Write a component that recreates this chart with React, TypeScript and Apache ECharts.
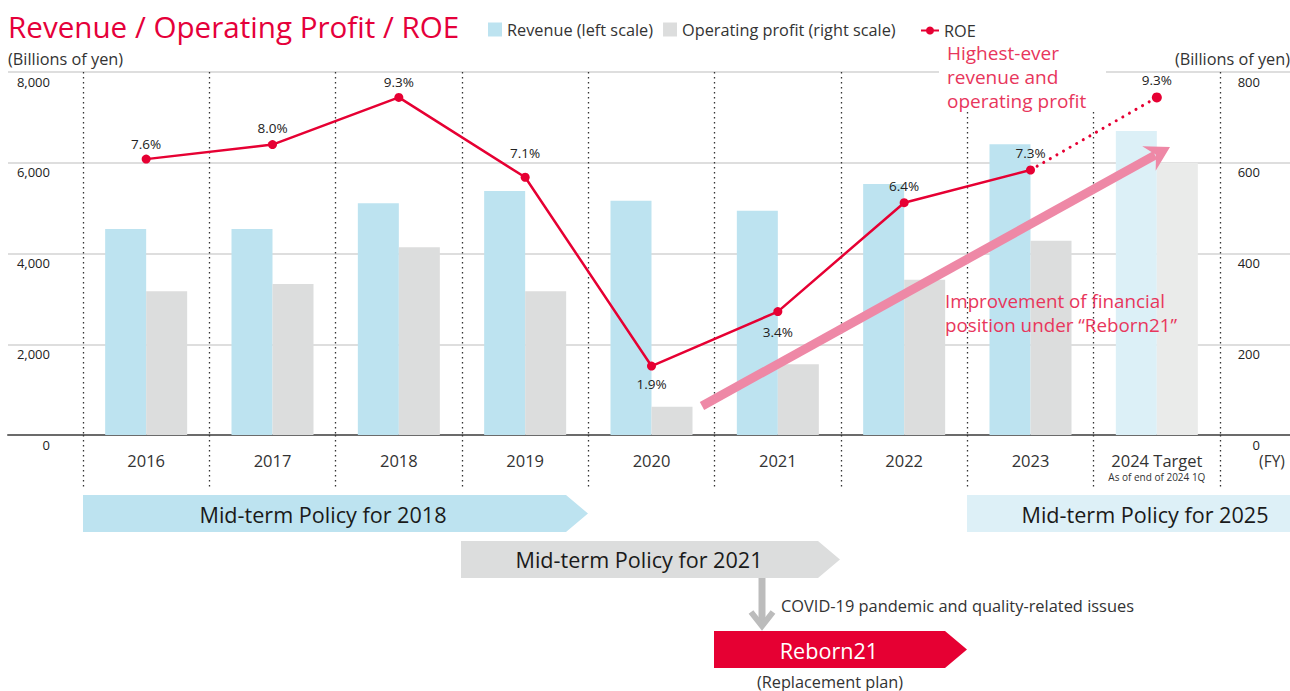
import React, { useEffect, useRef } from 'react';
import * as echarts from 'echarts';

// ---- Data ----
const categories = ['2016', '2017', '2018', '2019', '2020', '2021', '2022', '2023', '2024 Target'];
const revenue = [4540, 4540, 5110, 5380, 5160, 4940, 5530, 6410, 6700];
const operatingProfit = [317, 333, 414, 317, 62, 156, 342, 428, 600];
const roe = [7.6, 8.0, 9.3, 7.1, 1.9, 3.4, 6.4, 7.3, 9.3];
const targetSubLabel = 'As of end of 2024 1Q';

// label placement for ROE points (style, not data)
const roeLabelPlacement = ['top', 'top', 'top', 'top', 'bottom', 'bottom', 'top', 'top', 'top'];
const roeLabelDistance = [4, 5, 4, 13, 6, 9, 5, 6, 5];

const FONT = '"Open Sans", "Noto Sans", sans-serif';
const RED = '#e60033';
const ANNOT = '#e8365c';
const DOT = [1.4, 3.6];

const T = [1170, 147];
const d = [0.877, -0.48];
const n = [0.48, 0.877];
const pt = (a: number, b: number) => [T[0] - a * d[0] + b * n[0], T[1] - a * d[1] + b * n[1]];

function text(x: number, y: number, t: string, size: number, fill: string, align = 'left', extra: any = {}) {
  return {
    type: 'text',
    z: 20,
    style: { x, y, text: t, fill, font: `${size}px ${FONT}`, textAlign: align, textVerticalAlign: 'middle', ...extra },
  };
}

export default function App() {
  const ref = useRef<HTMLDivElement>(null);
  useEffect(() => {
    const chart = echarts.init(ref.current!, null, { renderer: 'svg' });
    const last = categories.length - 1;
    const option: any = {
      animation: false,
      textStyle: { fontFamily: FONT },
      legend: [
        {
          data: ['Revenue (left scale)', 'Operating profit (right scale)'],
          left: 488, top: 21, padding: 0, itemWidth: 14, itemHeight: 14, itemGap: 10, icon: 'rect',
          selectedMode: false,
          textStyle: { fontSize: 16.3, lineHeight: 17, color: '#333', fontFamily: FONT },
        },
        {
          data: ['ROE'],
          left: 920, top: 22, padding: 0, itemWidth: 18, itemHeight: 10,
          selectedMode: false,
          textStyle: { fontSize: 16.3, lineHeight: 17, color: '#333', fontFamily: FONT },
        },
      ],
      grid: [
        { left: 8, right: 0, top: 72, height: 363 },
        { left: 83, right: 70, top: 72, height: 363 },
      ],
      xAxis: [
        {
          type: 'value', gridIndex: 0, min: 0, max: 1,
          axisLine: { show: true, lineStyle: { color: '#6b6b6b', width: 2 } },
          axisTick: { show: false }, axisLabel: { show: false }, splitLine: { show: false },
        },
        {
          type: 'category', gridIndex: 1, data: categories, boundaryGap: true,
          axisLine: { show: false },
          axisTick: { show: true, interval: 0, length: 55, lineStyle: { color: '#333', width: 1.3, type: DOT } },
          splitLine: { show: true, interval: 0, lineStyle: { color: '#333', width: 1.3, type: DOT } },
          axisLabel: {
            interval: 0, margin: 15, fontSize: 16.5, lineHeight: 20, color: '#333', fontFamily: FONT,
            formatter: (v: string) => (v === categories[last] ? `{a|${v}}\n{b|${targetSubLabel}}` : v),
            rich: {
              a: { fontSize: 16.5, lineHeight: 20, color: '#333', fontFamily: FONT },
              b: { fontSize: 10, lineHeight: 14, color: '#333', fontFamily: FONT },
            },
          },
        },
      ],
      yAxis: [
        {
          type: 'value', gridIndex: 0, min: 0, max: 8000, interval: 2000,
          axisLine: { show: false }, axisTick: { show: false }, axisLabel: { show: false },
          splitLine: { show: true, lineStyle: { color: '#dedede', width: 2 } },
        },
        {
          type: 'value', gridIndex: 1, min: 0, max: 8000, interval: 2000, position: 'left',
          axisLine: { show: false }, axisTick: { show: false }, splitLine: { show: false },
          axisLabel: {
            formatter: (v: number) => v.toLocaleString('en-US'), color: '#222', fontSize: 13,
            margin: 33, verticalAlign: 'top', padding: [3, 0, 0, 0], fontFamily: FONT,
          },
        },
        {
          type: 'value', gridIndex: 1, min: 0, max: 800, interval: 200, position: 'right',
          axisLine: { show: false }, axisTick: { show: false }, splitLine: { show: false },
          axisLabel: {
            color: '#222', fontSize: 13, margin: 40, align: 'right',
            verticalAlign: 'top', padding: [3, 0, 0, 0], fontFamily: FONT,
          },
        },
        { type: 'value', gridIndex: 1, min: 0, max: 10, show: false },
      ],
      series: [
        { type: 'line', xAxisIndex: 0, yAxisIndex: 0, data: [], silent: true },
        {
          name: 'Revenue (left scale)', type: 'bar', xAxisIndex: 1, yAxisIndex: 1,
          barWidth: 41, barGap: '0%', itemStyle: { color: '#bde3f0' },
          data: revenue.map((v, i) => (i === last ? { value: v, itemStyle: { color: '#dcf0f7' } } : v)),
        },
        {
          name: 'Operating profit (right scale)', type: 'bar', xAxisIndex: 1, yAxisIndex: 2,
          barWidth: 41, barGap: '0%', itemStyle: { color: '#dcdddd' },
          data: operatingProfit.map((v, i) => (i === last ? { value: v, itemStyle: { color: '#eaebea' } } : v)),
        },
        {
          name: 'ROE', type: 'line', xAxisIndex: 1, yAxisIndex: 3, z: 6,
          symbol: 'circle', symbolSize: 9, itemStyle: { color: RED },
          lineStyle: { color: RED, width: 2.5 },
          label: {
            show: true, color: '#222', fontSize: 13.5, fontFamily: FONT,
            formatter: (p: any) => Number(p.value).toFixed(1) + '%',
          },
          data: roe.map((v, i) =>
            i < last
              ? { value: v, label: { position: roeLabelPlacement[i], distance: roeLabelDistance[i] } }
              : '-'
          ),
        },
        {
          name: 'ROE target', type: 'line', xAxisIndex: 1, yAxisIndex: 3, z: 6,
          symbol: 'circle', symbolSize: 10, itemStyle: { color: RED },
          lineStyle: { color: RED, width: 3, type: [0.1, 7.5], cap: 'round' },
          label: {
            show: true, color: '#222', fontSize: 13.5, fontFamily: FONT,
            formatter: (p: any) => Number(p.value).toFixed(1) + '%',
          },
          data: roe.map((v, i) =>
            i === last - 1
              ? { value: v, symbol: 'none', label: { show: false } }
              : i === last
              ? { value: v, label: { position: roeLabelPlacement[i], distance: roeLabelDistance[i] } }
              : '-'
          ),
        },
      ],
      graphic: [
        text(8, 26, 'Revenue / Operating Profit / ROE', 29.6, '#e5003a'),
        text(8, 59, '(Billions of yen)', 16.3, '#333'),
        text(1290, 59, '(Billions of yen)', 16.3, '#333', 'right'),
        text(1272, 461, '(FY)', 15.5, '#333', 'center'),
        { type: 'rect', z: 15, shape: { x: 939, y: 42, width: 167, height: 68 }, style: { fill: '#fff' } },
        text(947, 53, 'Highest-ever', 19, ANNOT),
        text(947, 77, 'revenue and', 19, ANNOT),
        text(947, 101, 'operating profit', 19, ANNOT),
        text(945, 301, 'Improvement of financial', 18.8, ANNOT),
        text(945, 325, 'position under \u201cReborn21\u201d', 18.8, ANNOT),
        {
          type: 'line', z: 18,
          shape: { x1: 702, y1: 406, x2: pt(17, 0)[0], y2: pt(17, 0)[1] },
          style: { stroke: '#ee88a6', lineWidth: 9 },
        },
        {
          type: 'polygon', z: 18,
          shape: { points: [T, pt(24, -14), pt(16, 0), pt(24, 14)] },
          style: { fill: '#ee88a6' },
        },
        {
          type: 'polygon', z: 10,
          shape: { points: [[83, 495], [566, 495], [588, 513.5], [566, 532], [83, 532]] },
          style: { fill: '#bde3f0' },
        },
        text(323, 514, 'Mid-term Policy for 2018', 21.6, '#1a1a1a', 'center'),
        {
          type: 'polygon', z: 10,
          shape: { points: [[461, 541], [818, 541], [840, 559.5], [818, 578], [461, 578]] },
          style: { fill: '#dcdddd' },
        },
        text(639, 559, 'Mid-term Policy for 2021', 21.6, '#1a1a1a', 'center'),
        { type: 'rect', z: 10, shape: { x: 967, y: 495, width: 323, height: 37 }, style: { fill: '#ddf0f7' } },
        text(1145, 514, 'Mid-term Policy for 2025', 21.6, '#1a1a1a', 'center'),
        { type: 'rect', z: 10, shape: { x: 758.5, y: 578, width: 7, height: 48 }, style: { fill: '#bcbcbc' } },
        {
          type: 'polyline', z: 10,
          shape: { points: [[751, 612], [762, 626], [773, 612]] },
          style: { stroke: '#bcbcbc', lineWidth: 6, fill: null },
        },
        text(781, 605, 'COVID-19 pandemic and quality-related issues', 16.4, '#333'),
        {
          type: 'polygon', z: 10,
          shape: { points: [[714, 631], [945, 631], [967, 649.5], [945, 668], [714, 668]] },
          style: { fill: RED },
        },
        text(829, 650, 'Reborn21', 21.6, '#ffffff', 'center'),
        text(830, 682, '(Replacement plan)', 16.3, '#333', 'center'),
      ],
    };
    chart.setOption(option);
    return () => chart.dispose();
  }, []);
  return (
    <div
      ref={ref}
      style={{ position: 'fixed', left: 0, top: 0, width: 1290, height: 691, background: '#fff' }}
    />
  );
}
